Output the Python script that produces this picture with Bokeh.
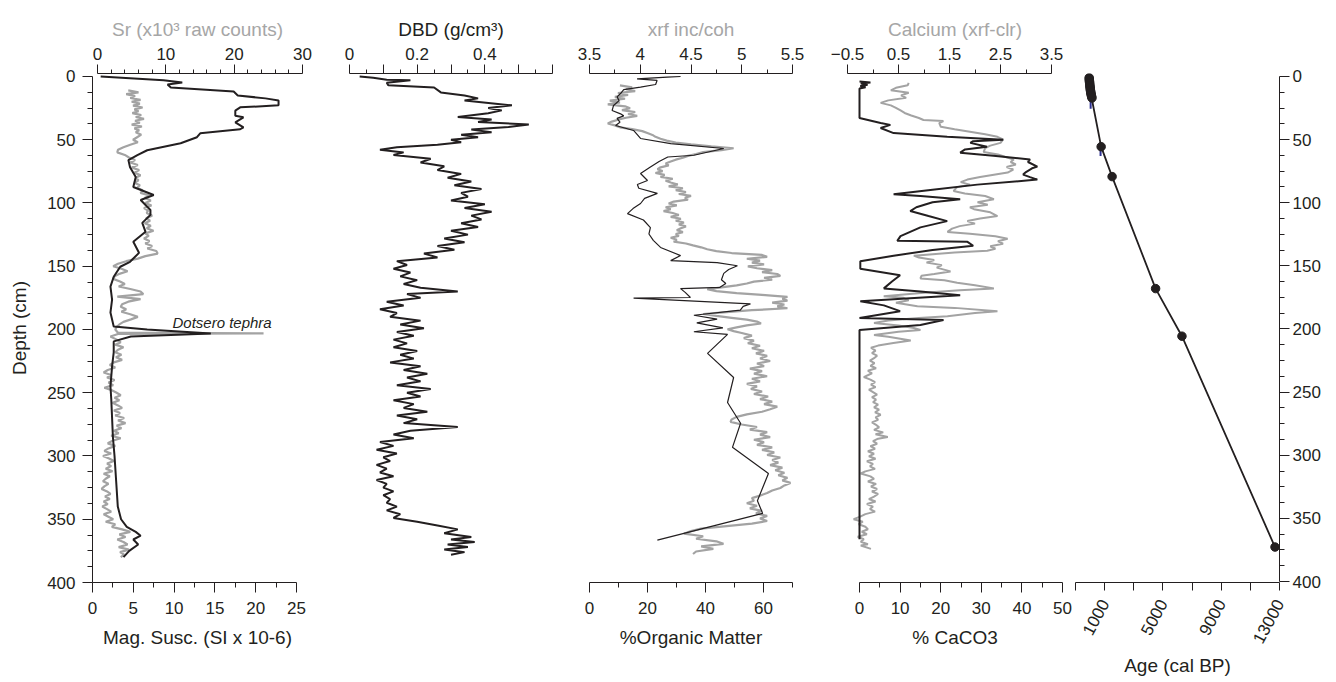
import math
from bokeh.plotting import figure
from bokeh.models import Range1d, LinearAxis, FixedTicker, Label
from bokeh.layouts import row
from bokeh.embed import file_html
from bokeh.resources import INLINE

# ---------------- data ----------------
# Panel 1: magnetic susceptibility (black, bottom axis) and Sr (grey, top axis)
mag_depth = [0, 3, 4.7, 6.3, 8.7, 11.8, 15, 17.3, 18.9, 22.8, 24.4, 27, 31, 32.3, 36.2, 40.2, 41.7, 44.9, 48, 52.8,
             58.3, 62.2, 66.1, 71.7, 79.5, 87.4, 93.7, 97.6, 105.5, 109.4, 115.7, 122.8, 130.7, 139.4, 146.5,
             150.4, 158.3, 166.1, 176.4, 186.6, 197.6, 200, 203.1, 205.5, 209.4, 218.1, 229.1, 244.9, 255.1,
             270, 285, 300, 320, 340, 350, 356, 360, 363, 366, 370, 375, 380]
mag_value = [1.0, 8.7, 11.0, 9.2, 9.6, 17.3, 17.8, 21.2, 22.8, 22.8, 18.1, 17.5, 17.5, 18.5, 17.5, 18.5, 18.1, 13.2,
             12.8, 10.8, 6.7, 5.5, 4.4, 4.6, 5.3, 5.0, 7.5, 5.9, 7.1, 7.1, 6.1, 6.5, 5.0, 5.7, 4.6, 3.4, 2.6, 2.2,
             2.4, 2.2, 2.6, 6.7, 14.5, 4.7, 2.6, 2.6, 2.4, 2.2, 2.3, 2.4, 2.5, 2.7, 2.9, 3.1, 3.5, 4.2, 5.3, 5.9,
             5.0, 5.6, 4.5, 3.8]

sr_depth = [11, 12.5, 14, 15.5, 17, 18.5, 20, 21.5, 23, 24.5,
            26, 27.5, 29, 30.5, 32, 33.5, 35, 36.5, 38, 39.5,
            41, 42.5, 44, 46, 48, 50, 52, 54, 56, 58,
            60, 62, 64, 66, 68, 70, 72, 74, 76, 78,
            80, 82, 84, 86, 88, 90, 92, 94, 96, 98,
            100, 102, 104, 106, 108, 110, 112, 114, 116, 118,
            120, 122, 124, 126, 128, 130, 132, 134, 136, 138,
            140, 142, 144, 146, 148, 150, 152, 154, 156, 158,
            160, 162, 164, 166, 168, 170, 172, 174, 176, 178,
            180, 182, 184, 186, 188, 190, 192, 194, 196, 198,
            200, 202.5, 203, 203.5, 205.5, 208, 210, 212, 214, 216,
            218, 220, 222, 224, 226, 228, 230, 232, 234, 236,
            238, 240, 242, 244, 246, 248, 250, 252, 254, 256,
            258, 260, 262, 264, 266, 268, 270, 272, 274, 276,
            278, 280, 282, 284, 286, 288, 290, 292, 294, 296,
            298, 300, 302, 304, 306, 308, 310, 312, 314, 316,
            318, 320, 322, 324, 326, 328, 330, 332, 334, 336,
            338, 340, 342, 344, 346, 348, 350, 352, 354, 356,
            358, 360, 362, 364, 366, 368, 370, 372, 374, 376,
            378, 380]
sr_value = [4.5, 6.0, 4.2, 5.5, 4.8, 6.3, 5.0, 6.2, 5.2, 6.6,
            5.4, 6.0, 5.1, 6.4, 5.6, 6.8, 5.5, 6.2, 5.0, 6.5,
            5.4, 6.1, 5.6, 6.4, 5.8, 5.2, 5.9, 4.8, 3.8, 3.0,
            2.9, 4.0, 4.6, 5.5, 4.8, 5.9, 5.0, 6.1, 5.4, 6.3,
            5.6, 6.0, 5.4, 6.2, 5.8, 6.6, 6.3, 7.6, 6.9, 7.8,
            7.0, 7.9, 6.8, 7.4, 7.2, 8.0, 7.1, 7.7, 6.9, 7.8,
            7.2, 8.2, 7.0, 7.5, 6.8, 7.6, 7.0, 8.0, 7.3, 8.6,
            8.8, 7.0, 5.9, 4.2, 3.0, 2.3, 3.5, 4.4, 3.2, 2.5,
            2.3, 3.3, 4.0, 3.1, 4.8, 6.3, 6.7, 2.9, 6.3, 4.5,
            3.6, 3.4, 4.2, 3.5, 4.8, 5.9, 4.9, 3.8, 3.2, 2.8,
            2.6, 3.0, 24.3, 3.0, 1.9, 2.8, 3.4, 2.6, 3.8, 3.0,
            2.6, 3.5, 2.7, 3.6, 2.4, 1.8, 2.6, 1.5, 0.9, 2.0,
            1.4, 2.5, 1.6, 2.3, 1.0, 2.1, 2.8, 3.4, 2.5, 3.2,
            2.2, 3.0, 3.6, 2.4, 3.3, 2.6, 3.9, 3.0, 4.1, 2.8,
            3.5, 2.4, 3.1, 2.0, 3.4, 2.2, 1.5, 2.6, 1.6, 1.0,
            2.0, 0.8, 1.7, 2.4, 1.4, 2.0, 1.2, 2.2, 0.9, 1.8,
            1.2, 0.8, 1.6, 1.0, 0.6, 1.4, 1.9, 1.1, 1.8, 0.9,
            1.5, 0.7, 1.4, 2.0, 0.9, 1.6, 2.3, 1.2, 2.6, 2.1,
            3.6, 4.8, 3.2, 4.1, 2.9, 3.8, 4.4, 3.1, 4.6, 3.3,
            3.9, 3.4]

# Panel 2: dry bulk density
dbd_depth = [0, 1, 2.5, 3, 5, 7, 8.7, 12.6, 15, 17.3,
             19, 22.8, 25, 26.8, 29, 32, 34, 36, 38, 40,
             42, 44, 46, 48, 50, 52, 54, 56, 58, 60,
             62, 65, 68, 71, 74, 77, 80, 83, 86, 89,
             92, 95, 98, 101, 104, 107, 110, 113, 116, 119,
             122, 125, 128, 131, 134, 137, 140, 143, 146, 149,
             152, 155, 158, 161, 164, 167, 170, 172, 175, 178,
             181, 184, 187, 190, 193, 196, 199, 202, 205, 208,
             211, 214, 217, 220, 223, 226, 229, 232, 235, 238,
             241, 244, 247, 250, 253, 256, 259, 262, 265, 268,
             271, 274, 277, 280, 283, 286, 289, 292, 295, 298,
             301, 304, 307, 310, 313, 316, 319, 322, 325, 328,
             331, 334, 337, 340, 343, 346, 349, 352, 355, 358,
             361, 364, 366, 368, 370, 372, 374, 376, 378]
dbd_value = [0.03, 0.07, 0.11, 0.18, 0.11, 0.115, 0.25, 0.27, 0.34, 0.38,
             0.34, 0.48, 0.41, 0.45, 0.41, 0.32, 0.42, 0.38, 0.53, 0.47,
             0.36, 0.42, 0.33, 0.38, 0.30, 0.33, 0.26, 0.14, 0.09, 0.16,
             0.13, 0.24, 0.21, 0.28, 0.26, 0.33, 0.29, 0.36, 0.31, 0.39,
             0.33, 0.35, 0.30, 0.40, 0.34, 0.42, 0.36, 0.39, 0.33, 0.38,
             0.30, 0.35, 0.28, 0.34, 0.26, 0.31, 0.22, 0.26, 0.14, 0.17,
             0.13, 0.18, 0.15, 0.20, 0.16, 0.21, 0.32, 0.17, 0.21, 0.11,
             0.16, 0.09, 0.14, 0.12, 0.21, 0.15, 0.22, 0.14, 0.19, 0.13,
             0.17, 0.13, 0.20, 0.15, 0.19, 0.12, 0.21, 0.16, 0.23, 0.17,
             0.21, 0.14, 0.24, 0.17, 0.21, 0.13, 0.19, 0.16, 0.23, 0.14,
             0.20, 0.16, 0.32, 0.18, 0.13, 0.19, 0.09, 0.13, 0.08, 0.14,
             0.10, 0.12, 0.08, 0.11, 0.09, 0.13, 0.08, 0.11, 0.10, 0.13,
             0.10, 0.12, 0.11, 0.14, 0.11, 0.15, 0.13, 0.20, 0.26, 0.32,
             0.28, 0.36, 0.30, 0.37, 0.29, 0.35, 0.28, 0.34, 0.30]

# Panel 3: xrf inc/coh (grey, top axis) and % organic matter (black, bottom axis)
xrf_depth = [7, 8.5, 10, 11.5, 13, 14.5, 16, 17.5, 19, 20.5,
             22, 23.5, 25, 26.5, 28, 29.5, 31, 32.5, 34, 35.5,
             37, 38.5, 40, 41.5, 43, 44.5, 46, 47.5, 49, 50.5,
             52, 53.5, 55, 56.5, 58, 59.5, 61, 62.5, 64, 65.5,
             67, 68.5, 70, 71.5, 73, 74.5, 76, 77.5, 79, 80.5,
             82, 83.5, 85, 86.5, 88, 89.5, 91, 92.5, 94, 95.5,
             97, 98.5, 100, 101.5, 103, 104.5, 106, 107.5, 109, 110.5,
             112, 113.5, 115, 116.5, 118, 119.5, 121, 122.5, 124, 125.5,
             127, 128.5, 130, 131.5, 133, 134.5, 136, 137.5, 139, 140.5,
             142, 143.5, 145, 146.5, 148, 149.5, 151, 152.5, 154, 155.5,
             157, 158.5, 160, 161.5, 163, 164.5, 166, 167.5, 169, 170.5,
             172, 173.5, 175, 176.5, 178, 179.5, 181, 182.5, 184, 185.5,
             187, 188.5, 190, 191.5, 193, 194.5, 196, 197.5, 199, 200.5,
             202, 204, 206, 208, 210, 212, 214, 216, 218, 220,
             222, 224, 226, 228, 230, 232, 234, 236, 238, 240,
             242, 244, 246, 248, 250, 252, 254, 256, 258, 260,
             262, 264, 266, 268, 270, 272, 274, 276, 278, 280,
             282, 284, 286, 288, 290, 292, 294, 296, 298, 300,
             302, 304, 306, 308, 310, 312, 314, 316, 318, 320,
             322, 324, 326, 328, 330, 332, 334, 336, 338, 340,
             342, 344, 346, 348, 350, 352, 354, 356, 358, 360,
             362, 364, 366, 368, 370, 372, 374, 376]
xrf_value = [3.80, 3.92, 3.86, 3.95, 3.78, 3.88, 3.75, 3.85, 3.70, 3.80,
             3.68, 3.85, 3.90, 3.82, 3.95, 3.88, 3.97, 3.86, 3.78, 3.72,
             3.68, 3.75, 3.80, 3.92, 4.02, 4.07, 4.12, 4.15, 4.20, 4.26,
             4.35, 4.50, 4.70, 4.92, 4.80, 4.62, 4.55, 4.47, 4.42, 4.35,
             4.30, 4.25, 4.28, 4.20, 4.17, 4.22, 4.15, 4.24, 4.20, 4.32,
             4.25, 4.30, 4.37, 4.28, 4.42, 4.35, 4.45, 4.38, 4.50, 4.44,
             4.47, 4.33, 4.28, 4.36, 4.25, 4.30, 4.23, 4.32, 4.38, 4.30,
             4.40, 4.35, 4.43, 4.38, 4.45, 4.40, 4.36, 4.42, 4.35, 4.38,
             4.30, 4.36, 4.33, 4.45, 4.52, 4.60, 4.66, 4.75, 4.90, 5.20,
             5.25, 5.05, 5.18, 5.10, 5.22, 5.06, 5.15, 5.30, 5.20, 5.35,
             5.38, 5.22, 5.30, 5.12, 5.05, 4.95, 4.80, 4.66, 4.75, 4.95,
             5.20, 5.45, 5.40, 5.45, 5.30, 5.42, 5.35, 5.45, 5.10, 4.85,
             4.62, 4.75, 4.90, 5.05, 5.15, 5.19, 5.05, 4.95, 4.86, 4.92,
             5.00, 5.10, 5.02, 5.12, 5.06, 5.18, 5.10, 5.22, 5.14, 5.25,
             5.18, 5.28, 5.15, 5.22, 5.08, 5.20, 5.12, 5.25, 5.10, 5.18,
             5.05, 5.15, 5.09, 5.20, 5.12, 5.26, 5.18, 5.30, 5.22, 5.35,
             5.28, 5.20, 5.05, 4.95, 4.90, 4.89, 5.00, 5.15, 5.08, 5.25,
             5.18, 5.28, 5.12, 5.22, 5.15, 5.30, 5.20, 5.32, 5.25, 5.38,
             5.30, 5.36, 5.28, 5.40, 5.33, 5.42, 5.36, 5.45, 5.40, 5.48,
             5.42, 5.38, 5.30, 5.25, 5.18, 5.10, 5.12, 5.05, 5.15, 5.08,
             5.20, 5.14, 5.25, 5.18, 5.25, 5.10, 4.85, 4.60, 4.50, 4.43,
             4.62, 4.55, 4.75, 4.82, 4.60, 4.72, 4.55, 4.52]

om_depth = [0, 0.5, 1.8, 3.1, 6.3, 8.4, 10.3, 13.4, 16, 19, 22.8, 26.8, 29.4, 31, 33, 36, 38.6, 42.5, 48.8,
            52.8, 56.7, 62, 63.4, 67, 71.3, 76.4, 81.9, 85, 88, 92, 96, 100, 104, 108, 113, 119, 124, 129,
            134.6, 141, 145, 146.5, 149, 152, 155, 160, 163, 166, 167, 170, 174, 174.5, 179, 181, 184, 188,
            191, 194, 198, 201, 203, 218, 237, 256.7, 273, 292, 312.6, 334, 344, 365]
om_value = [31.4, 26.8, 16.4, 23.3, 22.8, 17.6, 11.8, 10.7, 9.5, 10.2, 8.3, 7.8, 10.7, 11.8, 9.5, 10.5, 9.0,
            15.2, 17.6, 28, 46.3, 36, 27, 24, 21, 17.6, 20, 16.5, 17, 23.4, 19, 17.6, 15, 13.1, 18.6, 21,
            20.5, 22, 24.5, 31.4, 28, 44, 51, 48, 46.3, 45.5, 47, 45, 31.4, 33, 34.8, 15.2, 55.5, 53, 52,
            36, 44, 37, 46, 36, 47.6, 40.7, 49.7, 47.6, 52.1, 49.3, 61.7, 57.9, 59.7, 23.4]

# Panel 4: Calcium clr (grey, top axis) and % CaCO3 (black, bottom axis)
ca_depth = [5, 7, 9, 11, 13, 15, 17, 19, 21, 23,
            25, 27, 29, 31, 33, 34.6, 35.5, 37, 40, 42,
            44, 46, 48, 50, 52.8, 55, 57, 60, 62, 64,
            66, 68, 70, 72, 74, 76.4, 78, 80, 82, 84,
            86, 88, 91, 93, 95, 97.6, 100, 102, 104, 105.5,
            108, 111, 113, 115, 117, 119, 121, 123.6, 125, 127,
            129, 131, 133, 135, 137, 138.6, 140, 142.5, 144, 146,
            148, 150, 152, 155, 157, 158.5, 160.6, 162, 164, 166,
            168.5, 170, 172, 174.8, 176, 178, 180, 182.7, 184, 186.6,
            188, 190.6, 192, 194, 196, 198, 200, 201.5, 203, 205.5,
            207, 210, 212, 214, 215.7, 218, 220, 222, 224, 226,
            228, 230, 232, 234, 236, 239, 241, 243, 245, 247,
            249, 251, 253, 255, 257, 259, 261, 263, 265, 267,
            269, 271, 273, 275, 277, 279, 281, 283, 284.5, 286.6,
            288, 290, 292, 294, 296, 298, 300, 302, 304, 306,
            308, 310, 312, 314, 315.7, 318, 320, 322, 324, 326,
            328, 330, 332, 334, 336, 338, 340, 342, 344, 346,
            348, 350, 352, 354, 356, 358, 360, 362, 364, 366,
            368, 370, 372, 373, 375.6]
ca_value = [0.70, 0.68, 0.45, 0.35, 0.70, 0.55, 0.65, 0.30, 0.15, 0.35,
            0.45, 0.54, 0.62, 0.75, 0.90, 0.99, 1.38, 1.30, 1.33, 1.60,
            1.90, 2.20, 2.44, 2.55, 2.50, 2.30, 2.20, 2.17, 2.45, 2.60,
            2.76, 2.70, 2.80, 2.62, 2.75, 2.64, 2.40, 2.10, 1.85, 1.72,
            1.90, 1.65, 1.58, 1.80, 2.20, 2.37, 2.05, 2.25, 1.90, 1.98,
            2.30, 2.44, 2.10, 1.85, 2.00, 1.70, 1.55, 1.46, 1.90, 2.40,
            2.64, 2.45, 2.55, 2.30, 2.40, 2.24, 1.60, 0.80, 0.90, 1.20,
            1.05, 1.35, 1.25, 1.52, 1.20, 0.95, 0.93, 1.40, 1.65, 2.00,
            2.37, 1.70, 1.00, 0.21, 0.60, 0.70, 0.45, 0.87, 1.60, 2.44,
            2.00, 1.46, 0.90, 0.30, 0.02, 0.50, 0.80, 0.93, 0.50, 0.02,
            0.30, 0.74, 0.40, 0.10, -0.04, 0.05, -0.02, 0.08, 0.02, -0.06,
            0.03, -0.05, 0.06, -0.10, -0.02, -0.18, -0.05, 0.04, -0.04, 0.05,
            -0.08, 0.00, 0.08, -0.02, 0.06, 0.00, 0.10, 0.02, 0.12, 0.04,
            0.15, 0.05, 0.10, -0.02, 0.06, 0.12, 0.02, 0.20, 0.05, 0.29,
            0.10, 0.00, 0.08, -0.05, 0.04, -0.10, 0.02, -0.08, 0.05, -0.12,
            0.00, -0.06, 0.04, -0.15, -0.24, -0.05, 0.02, -0.10, 0.06, -0.04,
            0.08, -0.02, 0.10, 0.02, -0.08, 0.05, -0.12, 0.00, -0.06, 0.04,
            -0.15, -0.25, -0.38, -0.20, -0.28, -0.15, -0.10, -0.22, -0.12, -0.30,
            -0.18, -0.24, -0.10, -0.24, -0.04]

cac_depth = [4, 4.7, 5.5, 6.5, 7.5, 8.5, 9.5, 33, 37, 38.5, 41, 45, 48, 50.4, 51.5, 52.8, 55.9, 58, 60.6, 63,
             66, 68, 71.7, 73, 76, 78, 80, 82, 86, 90, 93.7, 95, 97.6, 100, 104, 107, 111, 115, 120, 127,
             130.7, 131.5, 134.6, 138, 142.5, 147, 152.8, 158, 163, 168.5, 171, 174, 178.7, 182, 186.6, 192,
             193.7, 197.6, 201.5, 368]
cac_value = [0, 2.7, 0.3, 2.0, 0.2, 1.5, 0, 0, 5.2, 7.6, 5.2, 8.4, 21.6, 35.4, 28, 27.3, 31.4, 26, 24.8, 33,
             42, 41.5, 43.8, 42.5, 41, 40.3, 42, 43.8, 29, 18, 8.4, 15, 24.8, 18, 14, 12.5, 17, 21.6, 15, 10.1,
             9.3, 26.6, 28, 18, 8.4, 0.2, 0.2, 10, 8, 6, 15, 24.8, 0.2, 6, 10, 0, 20.7, 15, 0, 0]

# Panel 5: age-depth model
pb_depth = [1, 2, 3, 4, 5, 6, 7, 8, 9, 10, 11, 12, 13, 14, 15, 16, 17]
pb_age = [-60, -55, -48, -40, -33, -25, -15, -5, 5, 15, 28, 40, 55, 70, 88, 108, 130]
date_depth = [55.6, 79.3, 168, 205.7, 372.7]
date_age = [760, 1512, 4497, 6305, 12692]
model_depth = [0, 17, 21, 55.6, 79.3, 168, 205.7, 372.7]
model_age = [-65, 130, 175, 760, 1512, 4497, 6305, 12692]
err_age = [40, 720]
err_top = [20, 52]
err_bottom = [25.5, 63]

# tick values and labels
depth_ticks = [0, 50, 100, 150, 200, 250, 300, 350, 400]
depth_minor = [12.5, 25, 37.5, 62.5, 75, 87.5, 112.5, 125, 137.5, 162.5, 175, 187.5, 212.5, 225, 237.5,
               262.5, 275, 287.5, 312.5, 325, 337.5, 362.5, 375, 387.5]
mag_ticks = [0, 5, 10, 15, 20, 25]
mag_minor = [2.5, 7.5, 12.5, 17.5, 22.5]
sr_ticks = [0, 10, 20, 30]
sr_minor = [2, 4, 6, 8, 12, 14, 16, 18, 22, 24, 26, 28]
dbd_ticks = [0, 0.1, 0.2, 0.3, 0.4, 0.5, 0.6]
dbd_labels = ["0", "", "0.2", "", "0.4", "", ""]
dbd_minor = [0.05, 0.15, 0.25, 0.35, 0.45, 0.55]
xrf_ticks = [3.5, 4, 4.5, 5, 5.5]
xrf_labels = ["3.5", "4", "4.5", "5", "5.5"]
xrf_minor = [3.75, 4.25, 4.75, 5.25]
om_ticks = [0, 20, 40, 60]
om_minor = [10, 30, 50, 70]
ca_ticks = [-0.5, 0.5, 1.5, 2.5, 3.5]
ca_minor = [0, 1, 2, 3]
cac_ticks = [0, 10, 20, 30, 40, 50]
cac_minor = [5, 15, 25, 35, 45]
age_ticks = [-1000, 1000, 3000, 5000, 7000, 9000, 11000, 13000]
age_labels = ["", "1000", "", "5000", "", "9000", "", "13000"]

# ---------------- styling ----------------
BLACK = "#231f20"
GREY = "#a3a3a3"
GREY_TITLE = "#a6a6a6"
FONT = "Liberation Sans"
H = 681
TOP = 73
PX_PER_CM = 1.27
D0 = -3 / PX_PER_CM  # depth at the top of the frame (frame starts 3px above 0 cm)


def yr(frame_h):
    return Range1d(start=D0 + frame_h / PX_PER_CM, end=D0)


def make_fig(width, bl, br, frame_h, xr):
    p = figure(width=width, height=H, x_range=xr, y_range=yr(frame_h),
               x_axis_location=None, y_axis_location=None,
               output_backend="svg", toolbar_location=None,
               min_border_left=bl, min_border_right=br,
               min_border_top=TOP, min_border_bottom=H - TOP - frame_h)
    p.grid.visible = False
    p.outline_line_color = None
    p.background_fill_color = None
    p.border_fill_color = None
    return p


def style(ax, title_color=BLACK, tick_out=10, minor_out=5, standoff=5, label_standoff=8):
    ax.axis_line_color = BLACK
    ax.axis_line_width = 1
    ax.major_tick_line_color = BLACK
    ax.minor_tick_line_color = BLACK
    ax.major_tick_in = 0
    ax.minor_tick_in = 0
    ax.major_tick_out = tick_out
    ax.minor_tick_out = minor_out
    ax.major_label_standoff = standoff
    ax.axis_label_standoff = label_standoff
    ax.major_label_text_font = FONT
    ax.major_label_text_font_size = "17px"
    ax.major_label_text_color = BLACK
    ax.axis_label_text_font = FONT
    ax.axis_label_text_font_size = "19px"
    ax.axis_label_text_font_style = "normal"
    ax.axis_label_text_color = title_color
    return ax


def top_axis(p, label, color, ticks, minor, bounds, range_name=None, labels=None):
    kw = {} if range_name is None else {"x_range_name": range_name}
    ax = LinearAxis(axis_label=label, ticker=FixedTicker(ticks=ticks, minor_ticks=minor), bounds=bounds, **kw)
    style(ax, color, tick_out=9, minor_out=4, standoff=5, label_standoff=5)
    if labels is not None:
        ax.major_label_overrides = dict(zip(ticks, labels))
    p.add_layout(ax, "above")


def bottom_axis(p, label, ticks, minor, bounds):
    ax = LinearAxis(axis_label=label, ticker=FixedTicker(ticks=ticks, minor_ticks=minor), bounds=bounds)
    style(ax, BLACK, tick_out=10, minor_out=5, standoff=9, label_standoff=10)
    p.add_layout(ax, "below")


# ---- Panel 1 ----
p1 = make_fig(325, 92, 23, 511, Range1d(0, 25 * 210 / 204))
p1.extra_x_ranges = {"top": Range1d(-30 * 5 / 205, 30)}
left = LinearAxis(axis_label="Depth (cm)", ticker=FixedTicker(ticks=depth_ticks, minor_ticks=depth_minor),
                  bounds=(0, 400))
style(left, BLACK, tick_out=10, minor_out=5, standoff=7, label_standoff=14)
p1.add_layout(left, "left")
top_axis(p1, "Sr (x10³ raw counts)", GREY_TITLE, sr_ticks, sr_minor, (0, 30), "top")
bottom_axis(p1, "Mag. Susc. (SI x 10-6)", mag_ticks, mag_minor, (0, 25))
p1.line(sr_value, sr_depth, x_range_name="top", line_color=GREY, line_width=2.2)
p1.line(mag_value, mag_depth, line_color=BLACK, line_width=2)
p1.add_layout(Label(x=9.8, y=194.5, text="Dotsero tephra", text_font=FONT, text_font_size="15px",
                    text_font_style="italic", text_color=BLACK, text_baseline="alphabetic"))

# ---- Panel 2 ----
p2 = make_fig(246, 24, 19, 511, Range1d(0, 0.6))
top_axis(p2, "DBD (g/cm³)", BLACK, dbd_ticks, dbd_minor, (0, 0.6), None, dbd_labels)
p2.line(dbd_value, dbd_depth, line_color=BLACK, line_width=2)

# ---- Panel 3 ----
p3 = make_fig(247, 18, 26, 509, Range1d(0, 70))
p3.extra_x_ranges = {"top": Range1d(3.5, 5.5)}
top_axis(p3, "xrf inc/coh", GREY_TITLE, xrf_ticks, xrf_minor, (3.5, 5.5), "top", xrf_labels)
bottom_axis(p3, "%Organic Matter", om_ticks, om_minor, (0, 70))
p3.line(xrf_value, xrf_depth, x_range_name="top", line_color=GREY, line_width=2.2)
p3.line(om_value, om_depth, line_color=BLACK, line_width=1.2)

# ---- Panel 4 ----
p4 = make_fig(254, 29, 10, 514, Range1d(-50 * 12 / 203, 50))
p4.extra_x_ranges = {"top": Range1d(-0.5, -0.5 + 215 / 51)}
top_axis(p4, "Calcium (xrf-clr)", GREY_TITLE, ca_ticks, ca_minor, (-0.5, 3.5), "top")
bottom_axis(p4, "% CaCO3", cac_ticks, cac_minor, (0, 50))
p4.line(ca_value, ca_depth, x_range_name="top", line_color=GREY, line_width=2)
p4.line(cac_value, cac_depth, line_color=BLACK, line_width=2)

# ---- Panel 5 ----
p5 = make_fig(254, 3, 47, 512, Range1d(-1000, 13000))
bax = LinearAxis(axis_label="Age (cal BP)", ticker=FixedTicker(ticks=age_ticks, minor_ticks=[]),
                 bounds=(-1000, 13000))
style(bax, BLACK, tick_out=8, minor_out=0, standoff=10, label_standoff=4)
bax.major_label_overrides = dict(zip(age_ticks, age_labels))
bax.major_label_orientation = math.radians(62)
p5.add_layout(bax, "below")
rax = LinearAxis(ticker=FixedTicker(ticks=depth_ticks, minor_ticks=depth_minor), bounds=(0, 400))
style(rax, BLACK, tick_out=10, minor_out=5, standoff=3, label_standoff=0)
p5.add_layout(rax, "right")
p5.segment(x0=err_age, y0=err_top, x1=err_age, y1=err_bottom, line_color="#2e3192", line_width=2)
p5.line(model_age, model_depth, line_color=BLACK, line_width=1.8)
p5.scatter(pb_age, pb_depth, size=8.5, fill_color=BLACK, line_color=BLACK)
p5.scatter(date_age, date_depth, size=8.5, fill_color=BLACK, line_color=BLACK)

layout = row(p1, p2, p3, p4, p5, spacing=0)
open("out.html", "w").write(file_html(layout, INLINE))
